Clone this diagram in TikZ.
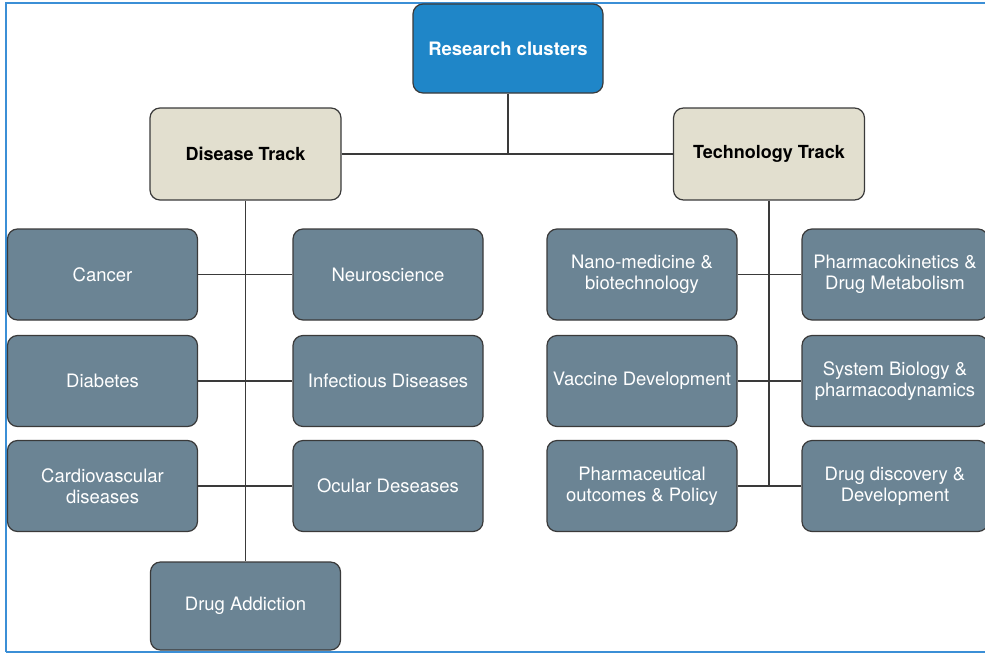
\documentclass[tikz,border=0pt]{standalone}
\usepackage{fontspec}
\setmainfont{TeX Gyre Heros}
\definecolor{rcblue}{HTML}{1F86C8}
\definecolor{trackbeige}{HTML}{E2DFCF}
\definecolor{leafgrey}{HTML}{6B8494}
\definecolor{framblue}{HTML}{3B8FD6}
\definecolor{edgedark}{HTML}{3A3A3A}
\begin{document}
\begin{tikzpicture}[x=1pt,y=-1pt,
  basebox/.style={draw=edgedark, line width=1.2pt, rounded corners=10pt, align=center,
    inner sep=1pt, font=\fontsize{18.5}{21}\selectfont},
  topbox/.style={basebox, fill=rcblue, text=white, font=\fontsize{18.5}{21}\selectfont\bfseries,
    minimum width=190pt, minimum height=89pt},
  trackbox/.style={basebox, fill=trackbeige, text=black, font=\fontsize{18}{21}\selectfont\bfseries,
    minimum width=191pt, minimum height=92pt},
  leafbox/.style={basebox, fill=leafgrey, text=white, minimum width=190pt, minimum height=91pt},
  link/.style={draw=edgedark, line width=1.3pt},
  framel/.style={draw=framblue, line width=2.2pt}
]
\useasboundingbox (0,0) rectangle (985,654);
\begin{scope}
\clip (0,0) rectangle (985,654);
% frame
\draw[framel] (6,652) -- (6,3) -- (990,3);
\draw[framel] (6,652) -- (990,652);

% nodes
\node[topbox] (rc) at (508,48.5) {Research clusters};
\node[trackbox] (dt) at (245.5,154) {Disease Track};
\node[trackbox] (tt) at (769,154) {Technology Track};

\node[leafbox] (cancer) at (102.5,274.5) {Cancer};
\node[leafbox] (neuro) at (388,274.5) {Neuroscience};
\node[leafbox] (diab) at (102.5,381) {Diabetes};
\node[leafbox] (infect) at (388,381) {Infectious Diseases};
\node[leafbox] (cardio) at (102.5,486) {Cardiovascular\\diseases};
\node[leafbox] (ocular) at (388,486) {Ocular Deseases};
\node[leafbox, minimum height=88pt] (addict) at (245.5,606) {Drug Addiction};

\node[leafbox] (nano) at (642,274.5) {Nano-medicine \&\\biotechnology};
\node[leafbox, minimum width=186pt] (pharmk) at (895,274.5) {Pharmacokinetics \&\\Drug Metabolism};
\node[leafbox] (vaccine) at (642,381) {Vaccine Development};
\node[leafbox, minimum width=186pt] (sysbio) at (895,381) {System Biology \&\\pharmacodynamics};
\node[leafbox] (pharmpol) at (642,486) {Pharmaceutical\\outcomes \& Policy};
\node[leafbox, minimum width=186pt] (drugdisc) at (895,486) {Drug discovery \&\\Development};

% connectors
\coordinate (hub) at (508,155);
\coordinate (techend) at (769,486);
\draw[link] (dt.east) -- (tt.west);
\draw[link] (rc.south) -- (hub);
\draw[link] (dt.south) -- (addict.north);
\draw[link] (tt.south) -- (techend);
\draw[link] (cancer.east) -- (neuro.west);
\draw[link] (diab.east) -- (infect.west);
\draw[link] (cardio.east) -- (ocular.west);
\draw[link] (nano.east) -- (pharmk.west);
\draw[link] (vaccine.east) -- (sysbio.west);
\draw[link] (pharmpol.east) -- (drugdisc.west);
\end{scope}
\end{tikzpicture}
\end{document}
